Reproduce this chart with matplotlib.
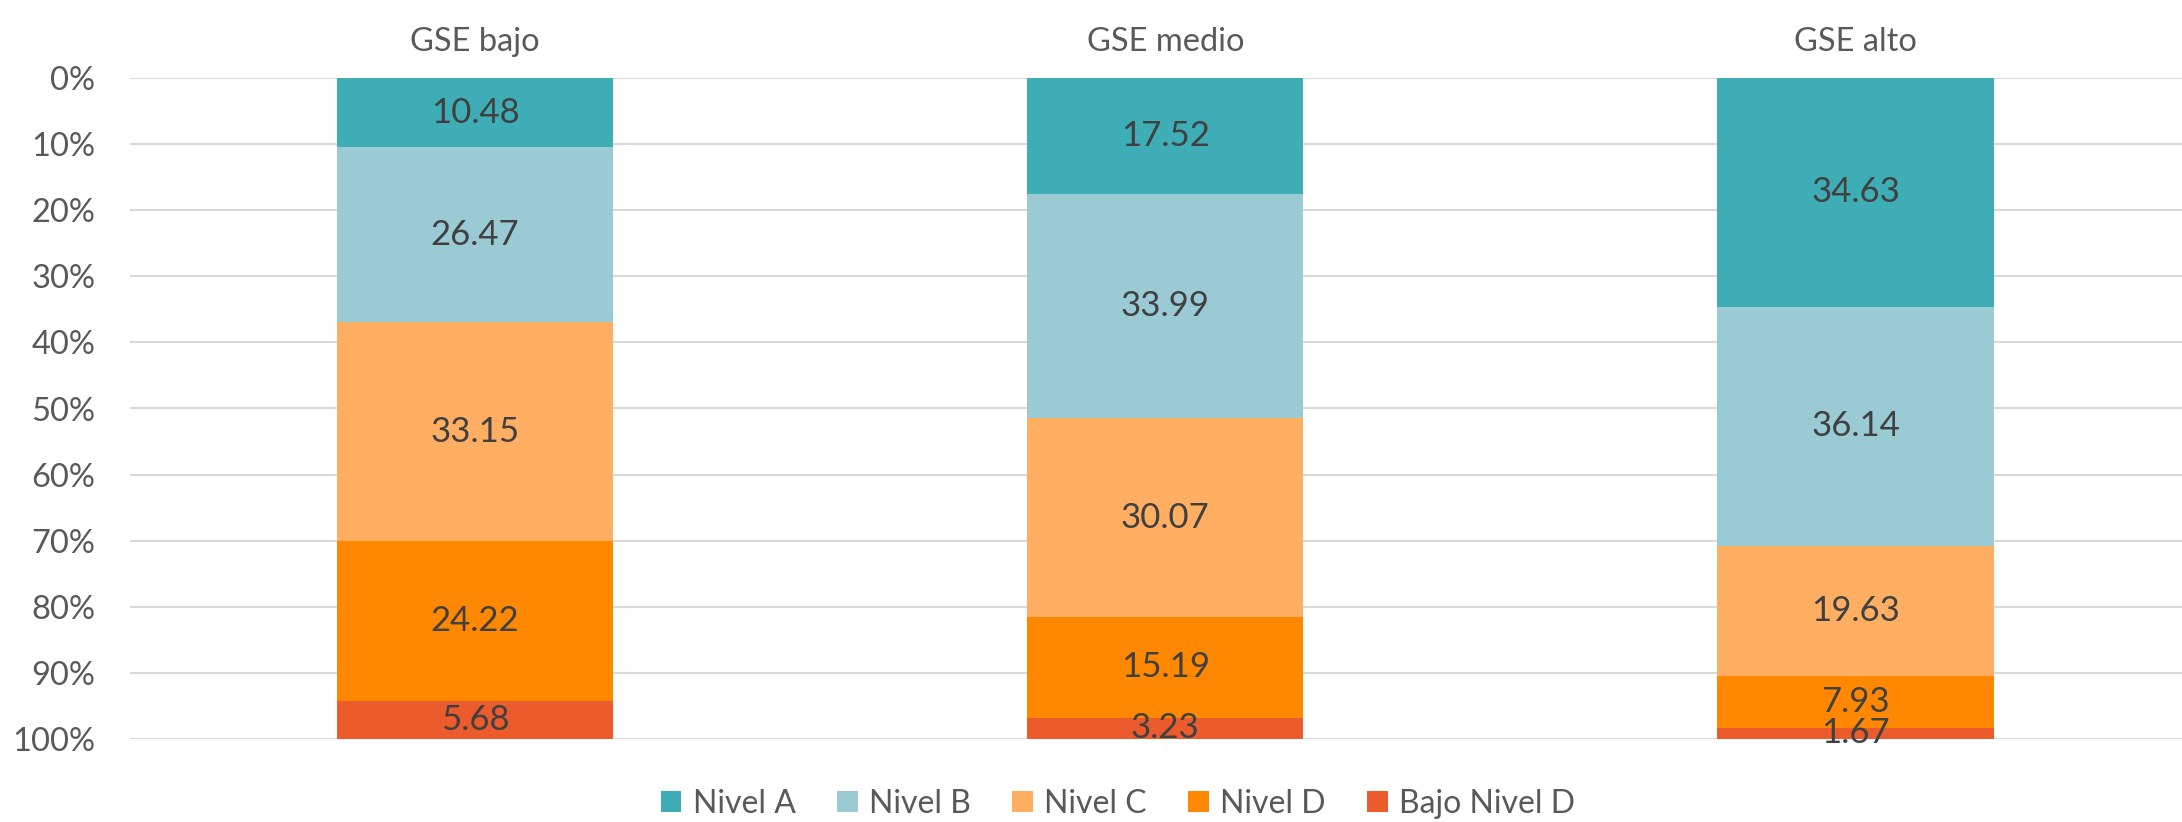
import matplotlib
matplotlib.use("Agg")
import matplotlib.pyplot as plt
import numpy as np

categories = ["GSE bajo", "GSE medio", "GSE alto"]
series_names = ["Nivel A", "Nivel B", "Nivel C", "Nivel D", "Bajo Nivel D"]
nivel_a = [10.48, 17.52, 34.63]
nivel_b = [26.47, 33.99, 36.14]
nivel_c = [33.15, 30.07, 19.63]
nivel_d = [24.22, 15.19, 7.93]
bajo_nivel_d = [5.68, 3.23, 1.67]
colors = ["#3EADB5", "#9ACBD5", "#FFAE62", "#FF8800", "#EC5B2B"]
yticks = [0, 10, 20, 30, 40, 50, 60, 70, 80, 90, 100]
ytick_labels = [f"{v}%" for v in yticks]

plt.rcParams['font.family'] = ['Lato', 'DejaVu Sans']

W, H = 2182, 822
fig = plt.figure(figsize=(W / 100, H / 100), dpi=100)
left_px = 130
span = 690.2 * 3
ax = fig.add_axes([left_px / W, 1 - 739 / H, span / W, (739 - 78) / H])

series = [nivel_a, nivel_b, nivel_c, nivel_d, bajo_nivel_d]
x = np.arange(len(categories))
bottom = np.zeros(len(categories))
for name, vals, col in zip(series_names, series, colors):
    vals = np.array(vals)
    ax.bar(x, vals, bottom=bottom, width=0.4, color=col, label=name, zorder=3)
    for xi, b, v in zip(x, bottom, vals):
        ax.text(xi, b + v / 2, f"{v:.2f}", ha="center", va="center",
                fontsize=25, color="#404040", zorder=4)
    bottom += vals

ax.set_xlim(-0.5, 2.5)
ax.set_ylim(100, 0)
ax.set_yticks(yticks)
ax.set_yticklabels(ytick_labels)
ax.yaxis.grid(True, color="#D9D9D9", linewidth=1.5, zorder=0)
ax.set_axisbelow(True)
ax.xaxis.tick_top()
ax.set_xticks(x)
ax.set_xticklabels(categories)
for s in ax.spines.values():
    s.set_visible(False)
ax.tick_params(axis="both", length=0, labelsize=23.5, colors="#595959")
ax.tick_params(axis="x", pad=15)
ax.tick_params(axis="y", pad=25)

handles, labels = ax.get_legend_handles_labels()
fig.legend(handles, labels, loc="center", bbox_to_anchor=(0.5 + 27 / W, 1 - 804 / H),
           ncol=5, frameon=False, fontsize=23, labelcolor="#595959",
           handlelength=0.65, handleheight=0.65, handletextpad=0.35, columnspacing=1.3)

fig.savefig("out.png", dpi=100)
